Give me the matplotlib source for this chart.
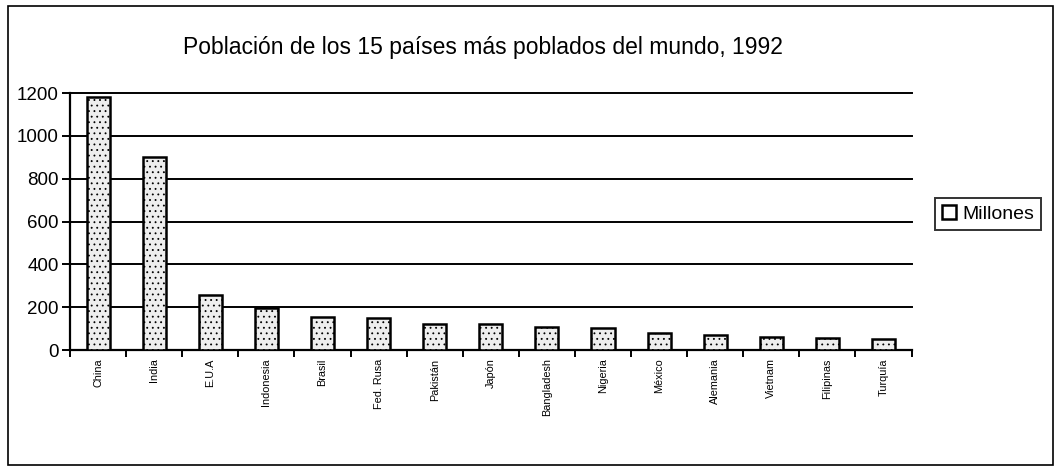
import numpy as np
import matplotlib.pyplot as plt
from matplotlib.patches import Rectangle, Patch

paises = ["China", "India", "E.U.A", "Indonesia", "Brasil", "Fed. Rusa",
          "Pakistán", "Japón", "Bangladesh", "Nigeria", "México", "Alemania",
          "Vietnam", "Filipinas", "Turquía"]
millones = [1180, 900, 255, 195, 155, 150, 122, 122, 110, 105, 80, 70, 60, 55, 50]
yticks = [0, 200, 400, 600, 800, 1000, 1200]

plt.rcParams['font.family'] = ['Liberation Sans', 'DejaVu Sans']
plt.rcParams['hatch.color'] = "#a8a8a8"
plt.rcParams['hatch.linewidth'] = 0.6

fig = plt.figure(figsize=(10.6, 4.68), dpi=100)
ax = fig.add_axes([0.066, 0.252, 0.794, 0.549])

x = np.arange(len(paises))
ax.bar(x, millones, width=0.41, color="#eeeeee", edgecolor="black",
       linewidth=1.8, hatch="...", zorder=3)

ax.set_xlim(-0.5, len(paises) - 0.5)
ax.set_ylim(0, 1200)
ax.set_yticks(yticks)
ax.set_yticklabels([str(v) for v in yticks], fontsize=13.5)
ax.yaxis.grid(True, color="black", linewidth=1.4, zorder=0)
ax.set_axisbelow(True)
for gl in ax.get_ygridlines():
    gl.set_clip_on(False)

ax.set_xticks(x)
ax.set_xticklabels(paises, rotation=90, fontsize=7.8)
ax.tick_params(axis="x", length=0, pad=6)
ax.set_xticks(np.arange(-0.5, len(paises)), minor=True)
ax.tick_params(axis="x", which="minor", length=5, width=1.4, direction="out")
ax.tick_params(axis="y", length=6, width=1.4, direction="out", pad=2)

for s in ["top", "right"]:
    ax.spines[s].set_visible(False)
ax.spines["left"].set_linewidth(1.6)
ax.spines["bottom"].set_linewidth(1.6)

fig.text(0.456, 0.898, "Población de los 15 países más poblados del mundo, 1992",
         ha="center", va="center", fontsize=16.5)

handle = Patch(facecolor="white", edgecolor="black", linewidth=1.8)
leg = fig.legend([handle], ["Millones"], loc="center left",
                 bbox_to_anchor=(0.873, 0.543), fontsize=14, frameon=True,
                 fancybox=False, edgecolor="black", handlelength=0.75,
                 handleheight=0.75, handletextpad=0.3, borderpad=0.35)
leg.get_frame().set_linewidth(1.4)

fig.patches.append(Rectangle((0.008, 0.006), 0.985, 0.982, transform=fig.transFigure,
                             fill=False, edgecolor="black", linewidth=1.2))

fig.savefig("out.png", dpi=100)
